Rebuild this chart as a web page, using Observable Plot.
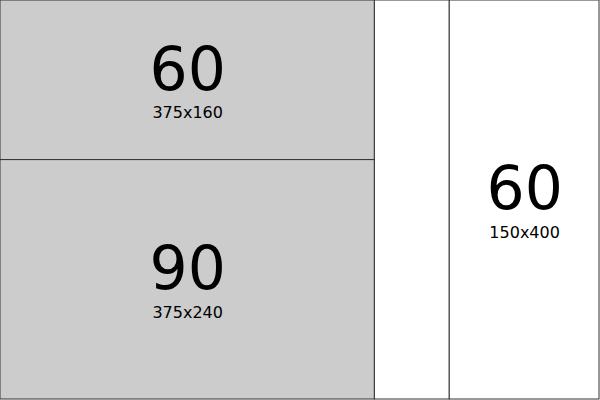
<!DOCTYPE html>
<html>
<head>
<meta charset="utf-8">
<script src="https://cdn.jsdelivr.net/npm/d3@7"></script>
<script src="https://cdn.jsdelivr.net/npm/@observablehq/plot@0.6"></script>
<style>
  body { margin: 0; background: #fff; }
</style>
</head>
<body>
<div id="chart"></div>
<script>
// columns of the tiling, each a stack of cells
let column_ids = [0, 0, 1, 2];
let values = [60, 90, 30, 60];
let sizes = ["375x160", "375x240", "", "150x400"];
let shown = [true, true, false, true];
let fills = ["#cccccc", "#cccccc", "#ffffff", "#ffffff"];

// build the cells: x in value units, y as share of the column
let col_sums = [];
values.forEach((v, i) => {
    col_sums[column_ids[i]] = (col_sums[column_ids[i]] || 0) + v;
});
let col_start = [];
let acc = 0;
col_sums.forEach((s, c) => { col_start[c] = acc; acc += s; });

let cells = [];
let y_acc = {};
values.forEach((v, i) => {
    let c = column_ids[i];
    let y0 = y_acc[c] || 0;
    let y1 = y0 + v / col_sums[c];
    y_acc[c] = y1;
    cells.push({
        x1: col_start[c], x2: col_start[c] + col_sums[c],
        y1: y0, y2: y1,
        value: v, size: sizes[i], shown: shown[i], fill: fills[i]
    });
});
let labelled = cells.filter(d => d.shown);

let plot = Plot.plot({
    width: 600,
    height: 400,
    margin: 0,
    x: {domain: [0, acc], range: [0, 599], axis: null},
    y: {domain: [0, 1], range: [0, 399], axis: null},
    style: {fontFamily: "DejaVu Sans, Verdana, sans-serif"},
    marks: [
        Plot.rect(cells, {x1: "x1", x2: "x2", y1: "y1", y2: "y2", fill: d => d.fill, stroke: "#333", strokeWidth: 1, inset: 0}),
        Plot.text(labelled, {x: d => (d.x1 + d.x2) / 2, y: d => (d.y1 + d.y2) / 2, text: d => String(d.value), fontSize: 60, dy: -10, fill: "#000"}),
        Plot.text(labelled, {x: d => (d.x1 + d.x2) / 2, y: d => (d.y1 + d.y2) / 2, text: "size", fontSize: 16, dy: 33, fill: "#000"})
    ]
});

document.querySelector("#chart").append(plot);
</script>
</body>
</html>
